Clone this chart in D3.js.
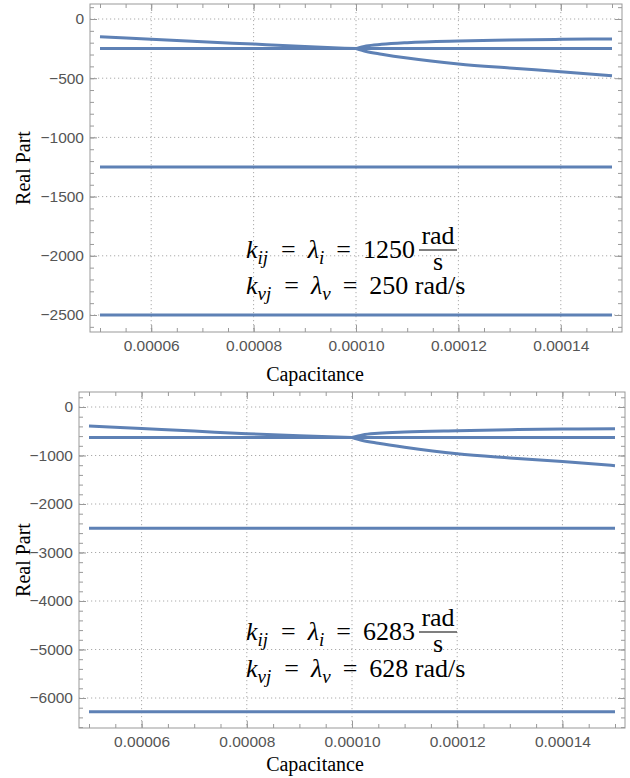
<!DOCTYPE html>
<html>
<head>
<meta charset="utf-8">
<script src="https://cdn.jsdelivr.net/npm/d3@7"></script>
<style>
  body { margin: 0; background: #fff; }
  .tick text { font-family: "Liberation Sans", Arial, sans-serif; font-size: 15.5px; fill: #555; }
  .tick line { stroke: #999; }
  .axis-title { font-family: "Liberation Serif", "Times New Roman", serif; font-size: 20px; fill: #000; }
  .eq { font-family: "Liberation Serif", "Times New Roman", serif; font-size: 26px; fill: #000; }
  .curve { fill: none; stroke: #5e81b5; stroke-width: 3; }
  .grid { stroke: #aaa; stroke-width: 1; stroke-dasharray: 1.2, 2.8; }
  .frame { fill: none; stroke: #999; stroke-width: 1; }
</style>
</head>
<body>
<svg id="chart" width="630" height="778"></svg>
<script>
const SVG = d3.select("#chart");

// capacitance samples (F)
const CAP_MERGED = [5e-5, 6e-5, 7e-5, 8e-5, 9e-5, 1e-4];
const CAP_SPLIT = [1e-4, 1.02e-4, 1.05e-4, 1.1e-4, 1.2e-4, 1.3e-4, 1.4e-4, 1.5e-4];
const CAP_RANGE = [5e-5, 1.5e-4];

// top panel: k = 1250 / 250
const TOP_MERGED = [-150, -171, -192, -212, -232, -250];
const TOP_UPPER = [-250, -228, -214, -200, -186, -178, -172, -169];
const TOP_LOWER = [-250, -274, -297, -330, -380, -414, -445, -479];
const TOP_FLAT = [-250, -1250, -2500];

// bottom panel: k = 6283 / 628
const BOT_MERGED = [-392, -445, -497, -550, -595, -628];
const BOT_UPPER = [-628, -575, -542, -515, -488, -468, -454, -447];
const BOT_LOWER = [-628, -690, -748, -830, -965, -1050, -1125, -1210];
const BOT_FLAT = [-628, -2500, -6283];

const X_TICKS = [6e-5, 8e-5, 1e-4, 1.2e-4, 1.4e-4];
const X_MINOR = d3.range(5e-5, 1.5001e-4, 5e-6);
const TOP_Y_TICKS = [0, -500, -1000, -1500, -2000, -2500];
const BOT_Y_TICKS = [0, -1000, -2000, -3000, -4000, -5000, -6000];

const LAMBDA_I = [1250, 6283];
const LAMBDA_V = [250, 628];

const PANELS = [
  {
    frame: { left: 90, right: 622, top: 4, bottom: 332 },
    xRange: [100, 612],
    yDomain: [0, -2500], yRange: [19, 315],
    yTicks: TOP_Y_TICKS, yMinorStep: 100,
    merged: TOP_MERGED, upper: TOP_UPPER, lower: TOP_LOWER, flat: TOP_FLAT,
    eq: { x: 246, y1: 258, y2: 294 },
    lamI: LAMBDA_I[0], lamV: LAMBDA_V[0],
    xTitleY: 381
  },
  {
    frame: { left: 79, right: 625, top: 392, bottom: 728 },
    xRange: [89, 615],
    yDomain: [0, -6000], yRange: [407, 698],
    yTicks: BOT_Y_TICKS, yMinorStep: 200,
    merged: BOT_MERGED, upper: BOT_UPPER, lower: BOT_LOWER, flat: BOT_FLAT,
    eq: { x: 246, y1: 640, y2: 677 },
    lamI: LAMBDA_I[1], lamV: LAMBDA_V[1],
    xTitleY: 771
  }
];

function drawPanel(p) {
  const g = SVG.append("g");
  const f = p.frame;
  const x = d3.scaleLinear().domain(CAP_RANGE).range(p.xRange);
  const y = d3.scaleLinear().domain(p.yDomain).range(p.yRange);

  const yLow = y.invert(f.bottom);
  const yHigh = y.invert(f.top);
  const yMinor = d3.range(Math.ceil(yLow / p.yMinorStep) * p.yMinorStep, yHigh, p.yMinorStep);

  // grid
  g.selectAll("line.gx").data(X_TICKS).enter().append("line")
    .attr("class", "grid")
    .attr("x1", d => x(d)).attr("x2", d => x(d))
    .attr("y1", f.top).attr("y2", f.bottom);
  g.selectAll("line.gy").data(p.yTicks).enter().append("line")
    .attr("class", "grid")
    .attr("x1", f.left).attr("x2", f.right)
    .attr("y1", d => y(d)).attr("y2", d => y(d));

  // axes, ticks pointing inward
  const fmtX = d3.format(".5f");
  const fmtY = d3.format("d");
  const addAxis = (axis, tx, ty) => {
    const a = g.append("g").attr("transform", `translate(${tx},${ty})`).call(axis);
    a.select(".domain").remove();
    return a;
  };
  addAxis(d3.axisBottom(x).tickValues(X_MINOR).tickSize(-4).tickFormat(""), 0, f.bottom);
  addAxis(d3.axisBottom(x).tickValues(X_TICKS).tickSize(-7).tickPadding(8).tickFormat(fmtX), 0, f.bottom);
  addAxis(d3.axisTop(x).tickValues(X_MINOR).tickSize(-4).tickFormat(""), 0, f.top);
  addAxis(d3.axisTop(x).tickValues(X_TICKS).tickSize(-7).tickFormat(""), 0, f.top);
  addAxis(d3.axisLeft(y).tickValues(yMinor).tickSize(-4).tickFormat(""), f.left, 0);
  addAxis(d3.axisLeft(y).tickValues(p.yTicks).tickSize(-7).tickPadding(6).tickFormat(fmtY), f.left, 0);
  addAxis(d3.axisRight(y).tickValues(yMinor).tickSize(-4).tickFormat(""), f.right, 0);
  addAxis(d3.axisRight(y).tickValues(p.yTicks).tickSize(-7).tickFormat(""), f.right, 0);

  g.append("rect").attr("class", "frame")
    .attr("x", f.left).attr("y", f.top)
    .attr("width", f.right - f.left).attr("height", f.bottom - f.top);

  // curves
  const line = d3.line().x(d => x(d[0])).y(d => y(d[1])).curve(d3.curveMonotoneX);
  g.append("path").attr("class", "curve").datum(d3.zip(CAP_MERGED, p.merged)).attr("d", line);
  g.append("path").attr("class", "curve").datum(d3.zip(CAP_SPLIT, p.upper)).attr("d", line);
  g.append("path").attr("class", "curve").datum(d3.zip(CAP_SPLIT, p.lower)).attr("d", line);
  g.selectAll("path.flat").data(p.flat).enter().append("path")
    .attr("class", "curve")
    .attr("stroke-width", (v, i) => i === p.flat.length - 1 ? 4 : 3)
    .attr("d", v => line(CAP_RANGE.map(c => [c, v])));

  // titles
  g.append("text").attr("class", "axis-title")
    .attr("transform", `translate(23,${(f.top + f.bottom) / 2}) rotate(-90)`)
    .attr("text-anchor", "middle").attr("dy", "0.35em")
    .text("Real Part");
  g.append("text").attr("class", "axis-title")
    .attr("x", 315).attr("y", p.xTitleY)
    .attr("text-anchor", "middle")
    .text("Capacitance");

  // equations
  const eqLine = (yy, sub1, sub2, tail) => {
    const t = g.append("text").attr("class", "eq").attr("x", p.eq.x).attr("y", yy);
    t.append("tspan").attr("font-style", "italic").text("k");
    t.append("tspan").attr("font-style", "italic").attr("font-size", "19px").attr("dy", 6).text(sub1);
    t.append("tspan").attr("dx", 13).attr("dy", -6).text("=");
    t.append("tspan").attr("dx", 12).attr("font-style", "italic").text("λ");
    t.append("tspan").attr("font-style", "italic").attr("font-size", "19px").attr("dy", 6).text(sub2);
    t.append("tspan").attr("dx", 12).attr("dy", -6).text("=");
    t.append("tspan").attr("dx", 12).text(tail);
    return t;
  };
  const t1 = eqLine(p.eq.y1, "ij", "i", String(p.lamI));
  const box = t1.node().getBBox();
  const fx = box.x + box.width + 23;
  g.append("text").attr("class", "eq").attr("x", fx).attr("y", p.eq.y1 - 14)
    .attr("text-anchor", "middle").text("rad");
  g.append("line").attr("x1", fx - 19).attr("x2", fx + 19)
    .attr("y1", p.eq.y1 - 8).attr("y2", p.eq.y1 - 8)
    .attr("stroke", "#000").attr("stroke-width", 1.2);
  g.append("text").attr("class", "eq").attr("x", fx).attr("y", p.eq.y1 + 12)
    .attr("text-anchor", "middle").text("s");
  eqLine(p.eq.y2, "vj", "v", p.lamV + " rad/s");
}

PANELS.forEach(drawPanel);
</script>
</body>
</html>
